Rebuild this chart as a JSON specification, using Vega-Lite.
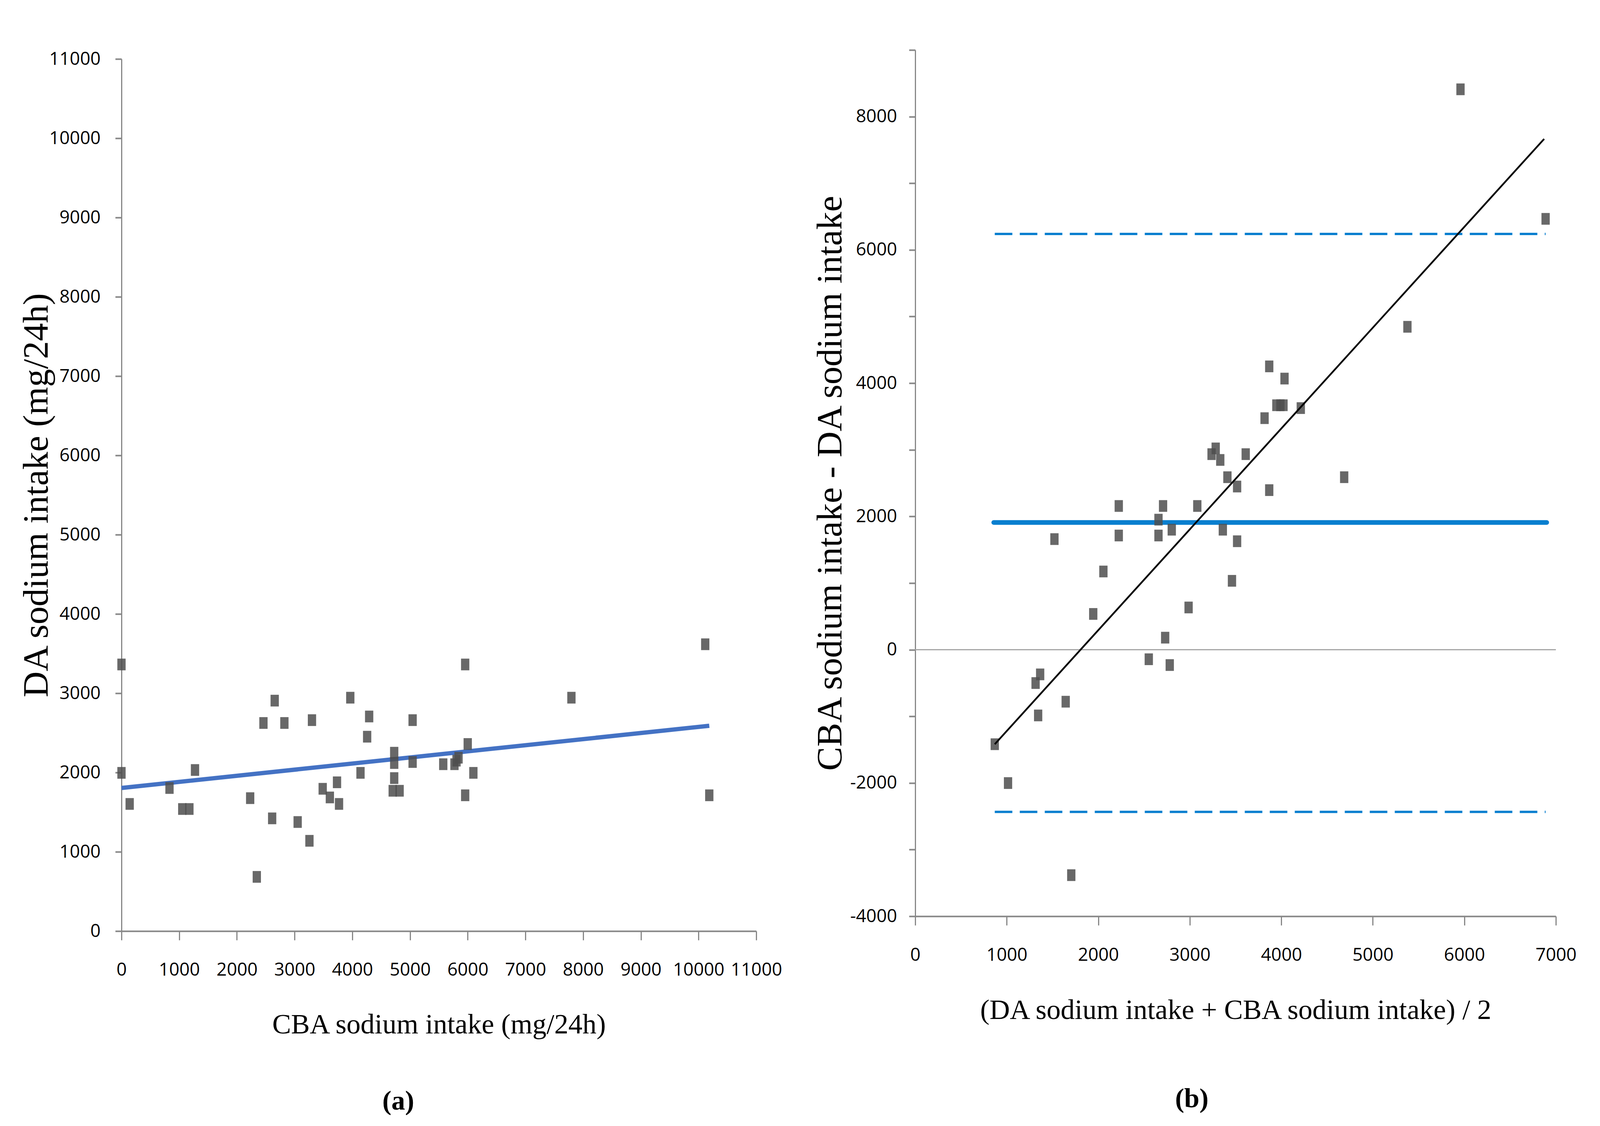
{
  "$schema": "https://vega.github.io/schema/vega-lite/v6.json",
  "background": "white",
  "padding": {"left": 47, "top": 105, "right": 0, "bottom": 0},
  "autosize": {"type": "pad"},
  "spacing": 77,
  "config": {
    "view": {"stroke": null},
    "axis": {
      "labelFont": "Open Sans", "labelFontSize": 46, "labelColor": "#000000", "labelLimit": 0,
      "titleFont": "Liberation Serif", "titleFontWeight": "normal", "titleColor": "#000000",
      "domainColor": "#878787", "tickColor": "#878787",
      "grid": false, "labelOverlap": false, "labelFlush": false
    },
    "axisX": {"tickSize": 23, "tickWidth": 3, "domainWidth": 4, "titleFontSize": 72, "labelPadding": 54},
    "axisY": {"tickSize": 16, "tickWidth": 4, "domainWidth": 3, "titleFontSize": 92},
    "title": {"font": "Liberation Serif", "fontSize": 70, "color": "#000000", "fontWeight": "bold", "orient": "bottom"}
  },
  "datasets": {
    "a_points": [
      {"cba": 0, "da": 3363}, {"cba": 0, "da": 1996}, {"cba": 142, "da": 1604}, {"cba": 832, "da": 1805},
      {"cba": 1053, "da": 1540}, {"cba": 1177, "da": 1540}, {"cba": 1274, "da": 2032}, {"cba": 2230, "da": 1677},
      {"cba": 2345, "da": 684}, {"cba": 2460, "da": 2625}, {"cba": 2611, "da": 1422}, {"cba": 2655, "da": 2907},
      {"cba": 2823, "da": 2625}, {"cba": 3053, "da": 1376}, {"cba": 3257, "da": 1139}, {"cba": 3301, "da": 2661},
      {"cba": 3487, "da": 1795}, {"cba": 3611, "da": 1686}, {"cba": 3735, "da": 1877}, {"cba": 3770, "da": 1604},
      {"cba": 3965, "da": 2944}, {"cba": 4142, "da": 1996}, {"cba": 4257, "da": 2452}, {"cba": 4292, "da": 2707},
      {"cba": 4726, "da": 2250}, {"cba": 4726, "da": 2120}, {"cba": 4726, "da": 1930}, {"cba": 4700, "da": 1770},
      {"cba": 4820, "da": 1770}, {"cba": 5045, "da": 2661}, {"cba": 5045, "da": 2133}, {"cba": 5576, "da": 2105},
      {"cba": 5770, "da": 2105}, {"cba": 5806, "da": 2150}, {"cba": 5841, "da": 2187}, {"cba": 5956, "da": 3363},
      {"cba": 5956, "da": 1713}, {"cba": 6000, "da": 2360}, {"cba": 6098, "da": 1996}, {"cba": 7797, "da": 2944},
      {"cba": 10116, "da": 3618}, {"cba": 10186, "da": 1713}
    ],
    "a_fit": [{"cba": 0, "da": 1805}, {"cba": 10186, "da": 2590}],
    "b_points": [
      {"avg": 869, "diff": -1418}, {"avg": 1014, "diff": -2001}, {"avg": 1315, "diff": -500}, {"avg": 1365, "diff": -370},
      {"avg": 1343, "diff": -986}, {"avg": 1521, "diff": 1660}, {"avg": 1644, "diff": -780}, {"avg": 1705, "diff": -3383},
      {"avg": 1945, "diff": 537}, {"avg": 2056, "diff": 1174}, {"avg": 2224, "diff": 2157}, {"avg": 2224, "diff": 1714},
      {"avg": 2552, "diff": -143}, {"avg": 2658, "diff": 1952}, {"avg": 2658, "diff": 1714}, {"avg": 2708, "diff": 2157},
      {"avg": 2731, "diff": 181}, {"avg": 2781, "diff": -230}, {"avg": 2803, "diff": 1801}, {"avg": 2987, "diff": 634},
      {"avg": 3082, "diff": 2157}, {"avg": 3238, "diff": 2935}, {"avg": 3283, "diff": 3021}, {"avg": 3333, "diff": 2848},
      {"avg": 3361, "diff": 1801}, {"avg": 3411, "diff": 2589}, {"avg": 3461, "diff": 1034}, {"avg": 3517, "diff": 2449},
      {"avg": 3517, "diff": 1628}, {"avg": 3611, "diff": 2935}, {"avg": 3817, "diff": 3475}, {"avg": 3868, "diff": 4252},
      {"avg": 3868, "diff": 2395}, {"avg": 3946, "diff": 3669}, {"avg": 3990, "diff": 3669}, {"avg": 4024, "diff": 3669},
      {"avg": 4035, "diff": 4069}, {"avg": 4213, "diff": 3626}, {"avg": 4687, "diff": 2589}, {"avg": 5378, "diff": 4846},
      {"avg": 5958, "diff": 8410}, {"avg": 6888, "diff": 6466}
    ],
    "b_mean": [{"avg": 858, "diff": 1910}, {"avg": 6900, "diff": 1910}],
    "b_loa": [
      {"limit": "upper", "avg": 869, "diff": 6240}, {"limit": "upper", "avg": 6888, "diff": 6240},
      {"limit": "lower", "avg": 869, "diff": -2433}, {"limit": "lower", "avg": 6888, "diff": -2433}
    ],
    "b_fit": [{"avg": 869, "diff": -1418}, {"avg": 6872, "diff": 7665}],
    "b_zero": [{"diff": 0}],
    "empty": []
  },
  "hconcat": [
    {
      "spacing": 22,
      "bounds": "flush",
      "vconcat": [
        {
          "width": 1,
          "height": 1,
          "data": {"name": "empty"},
          "mark": {"type": "point", "opacity": 0}
        },
        {
          "width": 1625,
          "height": 2233,
          "title": {"text": "(a)", "orient": "bottom", "dx": -104, "offset": 127},
          "layer": [
            {
              "data": {"name": "a_fit"},
              "mark": {"type": "line", "color": "#4472c4", "strokeWidth": 11, "strokeCap": "butt"},
              "encoding": {
                "x": {"field": "cba", "type": "quantitative", "scale": {"domain": [0, 11000], "nice": false},
                  "axis": {"title": "CBA sodium intake (mg/24h)", "values": [0, 1000, 2000, 3000, 4000, 5000, 6000, 7000, 8000, 9000, 10000, 11000],
                    "labelExpr": "'' + datum.value", "titlePadding": 82}},
                "y": {"field": "da", "type": "quantitative", "scale": {"domain": [0, 11000], "nice": false},
                  "axis": {"title": "DA sodium intake (mg/24h)", "values": [0, 1000, 2000, 3000, 4000, 5000, 6000, 7000, 8000, 9000, 10000, 11000],
                    "labelExpr": "'' + datum.value", "labelPadding": 38, "titlePadding": -15}}
              }
            },
            {
              "data": {"name": "a_points"},
              "mark": {"type": "point", "shape": "M-0.707,-1H0.707V1H-0.707Z", "size": 900, "filled": true, "color": "#4d4d4d", "opacity": 0.85, "strokeWidth": 0},
              "encoding": {
                "x": {"field": "cba", "type": "quantitative"},
                "y": {"field": "da", "type": "quantitative"}
              }
            }
          ]
        }
      ]
    },
    {
      "width": 1640,
      "height": 2218,
      "title": {"text": "(b)", "orient": "bottom", "dx": -112, "offset": 158},
      "layer": [
        {
          "data": {"name": "b_zero"},
          "mark": {"type": "rule", "color": "#a6a6a6", "strokeWidth": 3},
          "encoding": {
            "y": {"field": "diff", "type": "quantitative", "scale": {"domain": [-4000, 9000], "nice": false},
              "axis": {"title": "CBA sodium intake - DA sodium intake",
                "values": [-4000, -3000, -2000, -1000, 0, 1000, 2000, 3000, 4000, 5000, 6000, 7000, 8000, 9000],
                "labelExpr": "datum.value % 2000 === 0 ? '' + datum.value : ''", "labelPadding": 31, "titlePadding": 3}}
          }
        },
        {
          "data": {"name": "b_loa"},
          "mark": {"type": "line", "color": "#0a7fcf", "strokeWidth": 6, "strokeDash": [45, 19]},
          "encoding": {
            "x": {"field": "avg", "type": "quantitative", "scale": {"domain": [0, 7000], "nice": false},
              "axis": {"title": "(DA sodium intake + CBA sodium intake) / 2", "values": [0, 1000, 2000, 3000, 4000, 5000, 6000, 7000],
                "labelExpr": "'' + datum.value", "titlePadding": 83}},
            "y": {"field": "diff", "type": "quantitative"},
            "detail": {"field": "limit", "type": "nominal"}
          }
        },
        {
          "data": {"name": "b_mean"},
          "mark": {"type": "line", "color": "#0a7fcf", "strokeWidth": 12, "strokeCap": "round"},
          "encoding": {
            "x": {"field": "avg", "type": "quantitative"},
            "y": {"field": "diff", "type": "quantitative"}
          }
        },
        {
          "data": {"name": "b_points"},
          "mark": {"type": "point", "shape": "M-0.707,-1H0.707V1H-0.707Z", "size": 900, "filled": true, "color": "#4d4d4d", "opacity": 0.85, "strokeWidth": 0},
          "encoding": {
            "x": {"field": "avg", "type": "quantitative"},
            "y": {"field": "diff", "type": "quantitative"}
          }
        },
        {
          "data": {"name": "b_fit"},
          "mark": {"type": "line", "color": "#000000", "strokeWidth": 4.5},
          "encoding": {
            "x": {"field": "avg", "type": "quantitative"},
            "y": {"field": "diff", "type": "quantitative"}
          }
        }
      ]
    }
  ]
}
